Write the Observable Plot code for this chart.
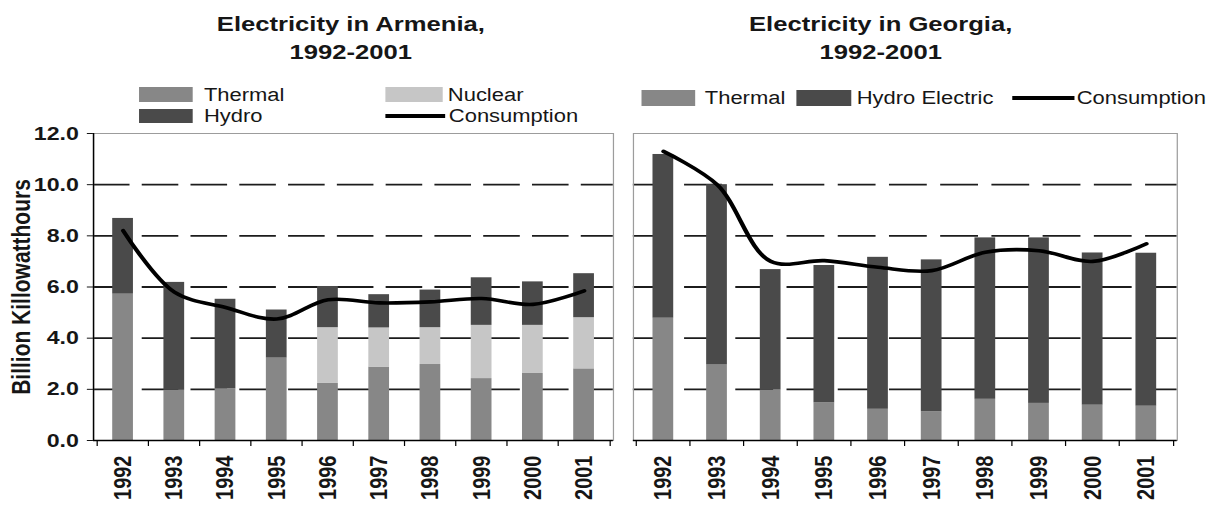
<!DOCTYPE html>
<html><head><meta charset="utf-8">
<script src="https://cdn.jsdelivr.net/npm/d3@7"></script>
<script src="https://cdn.jsdelivr.net/npm/@observablehq/plot@0.6"></script>
<style>
html,body{margin:0;padding:0;background:#fff;width:1222px;height:513px;overflow:hidden;}
#wrap{position:absolute;left:0;top:0;width:1002px;height:513px;transform:scaleX(1.2196);transform-origin:0 0;font-family:"Liberation Sans",Arial,sans-serif;color:#161616;}
.title{position:absolute;top:10px;width:300px;font-weight:bold;font-size:21px;line-height:28px;text-align:center;}
.sw{position:absolute;}
.lt{position:absolute;font-size:18px;line-height:20px;white-space:nowrap;}
.chart{position:absolute;top:125px;}
</style></head><body><div id="wrap"></div>
<script>
// ---- data ----
const years = [1992, 1993, 1994, 1995, 1996, 1997, 1998, 1999, 2000, 2001];
const yTicks = [0, 2, 4, 6, 8, 10, 12];
const gridValues = [2, 4, 6, 8, 10];

const armThermal     = [5.72, 1.96, 2.02, 3.22, 2.23, 2.87, 2.97, 2.42, 2.62, 2.80];
const armNuclear     = [0, 0, 0, 0, 2.18, 1.53, 1.44, 2.08, 1.88, 2.00];
const armHydro       = [2.96, 4.22, 3.50, 1.88, 1.61, 1.30, 1.47, 1.86, 1.70, 1.72];
const armConsumption = [8.20, 5.80, 5.20, 4.75, 5.50, 5.38, 5.42, 5.55, 5.32, 5.85];

const geoThermal     = [4.78, 2.95, 1.97, 1.47, 1.22, 1.12, 1.61, 1.45, 1.38, 1.34];
const geoHydro       = [6.40, 7.05, 4.71, 5.37, 5.94, 5.94, 6.31, 6.47, 5.95, 5.98];
const geoConsumption = [11.30, 10.00, 7.00, 7.03, 6.77, 6.64, 7.36, 7.42, 7.00, 7.69];

const titleArm = ["Electricity in Armenia,", "1992-2001"];
const titleGeo = ["Electricity in Georgia,", "1992-2001"];
const yLabel = "Billion Killowatthours";

const colors = {Thermal: "#878787", Nuclear: "#c6c6c6", Hydro: "#4a4a4a", "Hydro Electric": "#4a4a4a"};

// ---- build tables ----
function longTable(series) {
  const out = [];
  years.forEach((yr, i) => {
    for (const [name, arr] of series) out.push({year: yr, source: name, value: arr[i]});
  });
  return out;
}
const armBars = longTable([["Thermal", armThermal], ["Nuclear", armNuclear], ["Hydro", armHydro]]);
const geoBars = longTable([["Thermal", geoThermal], ["Hydro Electric", geoHydro]]);
const armLine = years.map((yr, i) => ({year: yr, value: armConsumption[i]}));
const geoLine = years.map((yr, i) => ({year: yr, value: geoConsumption[i]}));

const wrap = document.getElementById("wrap");
const FONT = "Liberation Sans, Arial, sans-serif";

function chart({data, line, order, width, ml, mr, pad, dash, yAxis}) {
  const step = (width - ml - mr) / years.length;
  const marks = [
    Plot.ruleY(gridValues, {stroke: "#1c1c1c", strokeWidth: 1.9, strokeDasharray: dash}),
    Plot.barY(data, {x: "year", y: "value", fill: "source", order}),
    Plot.frame({stroke: "#9c9c9c", strokeWidth: 1}),
    Plot.ruleY([0], {stroke: "#000", strokeWidth: 1.6}),
    Plot.axisX({tickSize: 6, tickFormat: () => "", label: null, dx: -step / 2, stroke: "#000"}),
    Plot.axisX([years[years.length - 1]], {tickSize: 6, tickFormat: () => "", label: null, dx: step / 2, stroke: "#000"}),
    Plot.axisX({tickSize: 0, tickRotate: -90, tickPadding: 15, tickFormat: d => String(d), fontSize: 20, fontWeight: "bold", label: null, fill: "#161616"}),
    Plot.lineY(line, {x: "year", y: "value", stroke: "#000", strokeWidth: 3.6, curve: "catmull-rom"})
  ];
  if (yAxis) {
    marks.push(
      Plot.frame({anchor: "left", stroke: "#000", strokeWidth: 1.2}),
      Plot.axisY({ticks: yTicks, tickSize: 5, tickPadding: 7, tickFormat: d3.format(".1f"), fontSize: 19, fontWeight: "bold", label: null, fill: "#161616"}),
      Plot.text([yLabel], {frameAnchor: "left", textAnchor: "middle", rotate: -90, dx: -59, fontSize: 21, fontWeight: "bold", fill: "#161616"})
    );
  } else {
    marks.push(Plot.axisY({ticks: [], label: null}));
  }
  return Plot.plot({
    width, height: 388,
    marginTop: 8, marginBottom: 73, marginLeft: ml, marginRight: mr,
    style: {fontFamily: FONT, background: "transparent", color: "#161616", overflow: "visible"},
    x: {type: "band", domain: years, paddingInner: pad, paddingOuter: pad / 2},
    y: {domain: [0, 12]},
    color: {domain: Object.keys(colors), range: Object.values(colors)},
    marks
  });
}

const left = chart({data: armBars, line: armLine, order: ["Thermal", "Nuclear", "Hydro"], width: 510, ml: 76.2, mr: 7.5, pad: 0.59, dash: "30,10", yAxis: true});
left.classList.add("chart"); left.style.left = "0px";
wrap.appendChild(left);

const right = chart({data: geoBars, line: geoLine, order: ["Thermal", "Hydro Electric"], width: 492, ml: 8.9, mr: 37.2, pad: 0.605, dash: "31,11", yAxis: false});
right.classList.add("chart"); right.style.left = "510px";
wrap.appendChild(right);

// ---- titles ----
function title(lines, cx) {
  const d = document.createElement("div");
  d.className = "title";
  d.style.left = (cx - 150) + "px";
  d.innerHTML = lines.join("<br>");
  wrap.appendChild(d);
}
title(titleArm, 287.7);
title(titleGeo, 722.1);

// ---- legends ----
function swatch(x, y, w, h, color) {
  const d = document.createElement("div");
  d.className = "sw";
  Object.assign(d.style, {left: x + "px", top: y + "px", width: w + "px", height: h + "px", background: color});
  wrap.appendChild(d);
}
function label(x, cy, text) {
  const d = document.createElement("div");
  d.className = "lt";
  Object.assign(d.style, {left: x + "px", top: (cy - 10) + "px"});
  d.textContent = text;
  wrap.appendChild(d);
}
// Armenia legend
swatch(113.9, 87, 44.3, 15, colors.Thermal); label(167.2, 95, "Thermal");
swatch(113.9, 109, 44.3, 14, colors.Hydro); label(167.2, 116, "Hydro");
swatch(315.6, 87, 47.5, 15, colors.Nuclear); label(367.2, 95, "Nuclear");
swatch(315.6, 113.5, 49, 4, "#000"); label(368, 116, "Consumption");
// Georgia legend
swatch(526.2, 90, 43.4, 16, colors.Thermal); label(577.9, 98, "Thermal");
swatch(653.3, 90, 45, 16, colors["Hydro Electric"]); label(702.5, 98, "Hydro Electric");
swatch(830.3, 95.5, 50.8, 4, "#000"); label(882.8, 98, "Consumption");
</script>
</body></html>
